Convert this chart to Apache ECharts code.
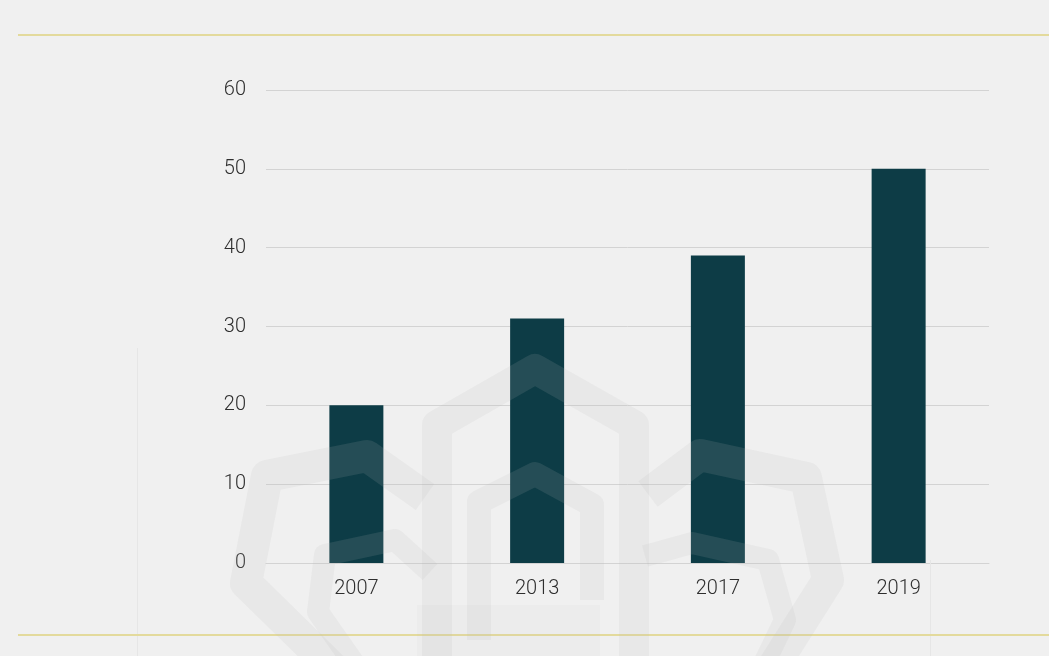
<!DOCTYPE html>
<html>
<head>
<meta charset="utf-8">
<style>
  html, body { margin: 0; padding: 0; background: #f0f0f0; }
  #chart { width: 1049px; height: 656px; }
</style>
<script src="https://cdn.jsdelivr.net/npm/echarts@6/dist/echarts.min.js"></script>
</head>
<body>
<div id="chart"></div>
<script>
// Chart data
const years = ['2007', '2013', '2017', '2019'];
const values = [20, 31, 39, 50];
const yTicks = [0, 10, 20, 30, 40, 50, 60];

const BAR_COLOR = '#0d3c46';
const TEXT_COLOR = '#2e2e2e';
const RULE_COLOR = '#e3da9c';
const MARK_FILL = 'rgba(185,185,185,0.14)';

// Faint emblem behind the plot: nested hexagonal bands
function band(points, width) {
  return {
    type: 'polyline',
    z: 100,
    silent: true,
    shape: { points: points },
    style: { stroke: MARK_FILL, lineWidth: width, fill: null, lineJoin: 'round', lineCap: 'butt' }
  };
}

const emblem = [
  // central arch, outer and inner
  band([[437, 660], [437, 425], [535, 369], [634, 425], [634, 660]], 30),
  band([[479, 640], [479, 502], [535, 474], [592, 505], [592, 600]], 24),
  // left hexagon, outer and inner
  band([[345, 680], [246, 583], [267, 476], [367, 456], [425, 497]], 32),
  band([[360, 672], [318, 612], [325, 555], [395, 540], [430, 572]], 22),
  // right hexagon, outer and inner
  band([[770, 672], [828, 580], [806, 478], [700, 455], [648, 494]], 32),
  band([[760, 672], [785, 620], [768, 560], [692, 543], [645, 556]], 22),
  // base block
  {
    type: 'rect', z: 100, silent: true,
    shape: { x: 417, y: 605, width: 183, height: 55 },
    style: { fill: 'rgba(185,185,185,0.07)' }
  },
  // thin frame edges
  {
    type: 'line', z: 1, silent: true,
    shape: { x1: 137.5, y1: 348, x2: 137.5, y2: 656 },
    style: { stroke: '#e6e6e6', lineWidth: 1 }
  },
  {
    type: 'line', z: 1, silent: true,
    shape: { x1: 930.5, y1: 560, x2: 930.5, y2: 656 },
    style: { stroke: '#e6e6e6', lineWidth: 1 }
  }
];

// Pale yellow rules above and below the plot
const rules = [
  {
    type: 'line', z: 2, silent: true,
    shape: { x1: 18, y1: 35, x2: 1049, y2: 35 },
    style: { stroke: RULE_COLOR, lineWidth: 2 }
  },
  {
    type: 'line', z: 2, silent: true,
    shape: { x1: 18, y1: 635, x2: 1049, y2: 635 },
    style: { stroke: RULE_COLOR, lineWidth: 2 }
  }
];

const chart = echarts.init(document.getElementById('chart'), null, { renderer: 'canvas' });

const labelFont = {
  color: TEXT_COLOR, fontSize: 20, fontWeight: 300,
  fontFamily: 'Roboto, "Noto Sans", sans-serif'
};

chart.setOption({
  backgroundColor: '#f0f0f0',
  animation: false,
  textStyle: { fontFamily: 'Roboto, "Noto Sans", sans-serif' },
  grid: { left: 266, right: 60, top: 90, bottom: 93, containLabel: false },
  xAxis: {
    type: 'category',
    data: years,
    axisTick: { show: false },
    axisLine: { show: true, lineStyle: { color: '#d3d3d3', width: 1 } },
    axisLabel: Object.assign({ margin: 16 }, labelFont)
  },
  yAxis: {
    type: 'value',
    min: yTicks[0],
    max: yTicks[yTicks.length - 1],
    interval: yTicks[1] - yTicks[0],
    axisLine: { show: false },
    axisTick: { show: false },
    splitLine: { show: true, lineStyle: { color: '#d3d3d3', width: 1 } },
    axisLabel: Object.assign({ margin: 20, padding: [4, 0, 0, 0] }, labelFont)
  },
  series: [{
    type: 'bar',
    data: values,
    barWidth: 54,
    itemStyle: { color: BAR_COLOR },
    z: 5
  }],
  graphic: { elements: rules.concat(emblem) }
});
</script>
</body>
</html>
